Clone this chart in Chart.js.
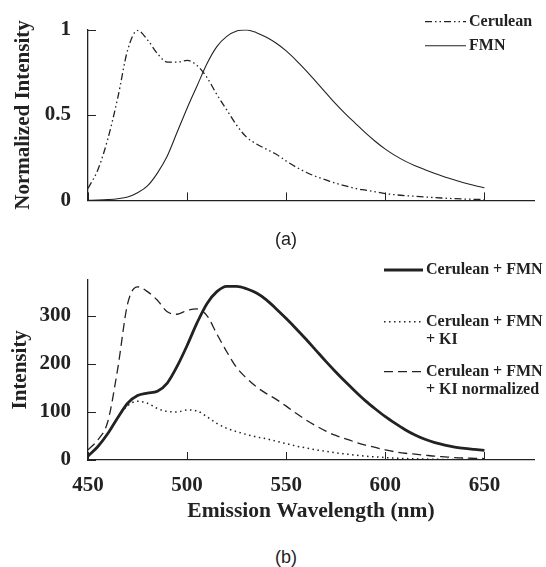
<!DOCTYPE html>
<html>
<head>
<meta charset="utf-8">
<script src="https://cdn.jsdelivr.net/npm/chart.js@4/dist/chart.umd.min.js"></script>
<style>
  body { margin: 0; background: #fff; width: 546px; height: 567px; position: relative; overflow: hidden; }
  canvas { position: absolute; left: 0; }
  .cap { position: absolute; width: 40px; text-align: center; font: 18px "Liberation Sans", Arial, sans-serif; color: #222; }
</style>
</head>
<body>
<canvas id="chartA" width="546" height="230" style="top:0"></canvas>
<div class="cap" style="left:266px; top:229px">(a)</div>
<canvas id="chartB" width="546" height="280" style="top:250px"></canvas>
<div class="cap" style="left:266px; top:547px">(b)</div>
<script>
(function () {
  'use strict'

  // emission wavelength (nm), shared by all curves
  var wavelength = [450, 455, 460, 465, 470, 475, 480, 485, 490, 495, 500, 505, 510, 515, 520, 525, 530,
    535, 540, 545, 550, 555, 560, 565, 570, 575, 580, 585, 590, 595, 600, 605, 610, 615, 620, 625,
    630, 635, 640, 645, 650]

  // panel (a): normalized spectra
  var cerulean = [0.07, 0.18, 0.36, 0.60, 0.88, 0.995, 0.94, 0.86, 0.81, 0.81, 0.82, 0.79, 0.72, 0.62, 0.53,
    0.44, 0.37, 0.33, 0.30, 0.27, 0.23, 0.195, 0.165, 0.14, 0.12, 0.10, 0.085, 0.07, 0.06, 0.05,
    0.04, 0.033, 0.028, 0.024, 0.02, 0.016, 0.013, 0.01, 0.008, 0.006, 0.005]
  var fmn = [0.0, 0.002, 0.005, 0.01, 0.02, 0.045, 0.085, 0.16, 0.26, 0.40, 0.54, 0.67, 0.80, 0.90, 0.96,
    0.992, 0.998, 0.982, 0.955, 0.92, 0.875, 0.82, 0.76, 0.695, 0.63, 0.565, 0.505, 0.45, 0.395, 0.345,
    0.30, 0.262, 0.23, 0.203, 0.18, 0.158, 0.137, 0.119, 0.102, 0.087, 0.074]

  // panel (b): intensities
  var ceruleanFmn = [8, 28, 55, 88, 118, 134, 139, 143, 160, 195, 238, 285, 325, 350, 361, 361, 356,
    347, 333, 314, 294, 273, 251, 228, 205, 183, 162, 142, 123, 106, 90, 76, 63, 52, 43, 36,
    31, 27, 24, 22, 20]
  var ceruleanFmnKI = [8, 28, 55, 88, 113, 122, 118, 107, 101, 100, 104, 102, 90, 76, 66, 59, 53,
    48, 44, 39, 34, 29, 25, 21, 18, 15, 12.5, 10, 8, 6.5, 5, 4, 3, 2.5, 2, 1.5, 1.2, 1, 1, 1, 1]
  var ceruleanFmnKINorm = [21, 42, 80, 190, 325, 360, 350, 332, 308, 303, 311, 314, 300, 262, 225, 192, 170,
    152, 138, 126, 112, 97, 83, 71, 60, 51, 44, 37, 31, 26, 21, 17, 14, 12, 10, 8, 6.5, 5, 4, 3.5, 3]

  var xTicks = [450, 500, 550, 600, 650]
  var yTicksA = [0, 0.5, 1]
  var yTicksB = [0, 100, 200, 300]
  var legendA = [['Cerulean'], ['FMN']]
  var legendB = [['Cerulean + FMN'], ['Cerulean + FMN', '+ KI'], ['Cerulean + FMN', '+ KI normalized']]

  var ink = '#222'
  Chart.defaults.font.family = '"Liberation Serif", "Times New Roman", serif'
  Chart.defaults.font.weight = 'bold'
  Chart.defaults.color = ink

  function pts(ys) {
    return wavelength.map(function (w, i) { return { x: w, y: ys[i] } })
  }

  // inward tick marks on both axes
  var tickMarks = {
    id: 'tickMarks',
    afterDraw: function (chart) {
      var ctx = chart.ctx, a = chart.chartArea, x = chart.scales.x, y = chart.scales.y
      ctx.save()
      ctx.strokeStyle = ink
      ctx.lineWidth = 1
      ctx.beginPath()
      x.ticks.forEach(function (t) {
        var px = Math.round(x.getPixelForValue(t.value)) + 0.5
        ctx.moveTo(px, a.bottom); ctx.lineTo(px, a.bottom - 8)
      })
      y.ticks.forEach(function (t) {
        var py = Math.round(y.getPixelForValue(t.value)) + 0.5
        ctx.moveTo(a.left, py); ctx.lineTo(a.left + 8, py)
      })
      ctx.stroke()
      ctx.restore()
    }
  }

  // legend drawn beside the curves, top right
  var sideLegend = {
    id: 'sideLegend',
    afterDraw: function (chart, args, opts) {
      var ctx = chart.ctx
      ctx.save()
      chart.data.datasets.forEach(function (ds, i) {
        var y = opts.rows[i]
        ctx.strokeStyle = ds.borderColor
        ctx.lineWidth = ds.borderWidth
        ctx.setLineDash(ds.borderDash || [])
        ctx.beginPath()
        ctx.moveTo(opts.x0, y); ctx.lineTo(opts.x1, y)
        ctx.stroke()
        ctx.setLineDash([])
        ctx.font = 'bold 16px "Liberation Serif", serif'
        ctx.fillStyle = ink
        ctx.textBaseline = 'middle'
        opts.labels[i].forEach(function (line, k) {
          ctx.fillText(line, opts.x1 + 3, y + k * 18.5)
        })
      })
      ctx.restore()
    }
  }

  function axes(yMax, yTicks, yTitle, showX) {
    return {
      x: {
        type: 'linear', min: 450, max: 675,
        afterBuildTicks: function (s) { s.ticks = xTicks.map(function (v) { return { value: v } }) },
        afterFit: function (s) { s.height = showX ? 70 : 22 },
        grid: { display: true, drawOnChartArea: false, drawTicks: false },
        border: { display: true, color: ink, width: 1.3 },
        ticks: { display: showX, padding: 13, font: { size: 21 }, maxRotation: 0,
          callback: function (v) { return String(v) } },
        title: { display: showX, text: 'Emission Wavelength (nm)', font: { size: 21.5 }, padding: { top: 0, bottom: 6 } }
      },
      y: {
        min: 0, max: yMax,
        afterBuildTicks: function (s) { s.ticks = yTicks.map(function (v) { return { value: v } }) },
        afterFit: function (s) { s.width = 88 },
        grid: { display: true, drawOnChartArea: false, drawTicks: false },
        border: { display: true, color: ink, width: 1.3 },
        ticks: { padding: 17, font: { size: 21 }, callback: function (v) { return String(v) } },
        title: { display: true, text: yTitle, font: { size: 21 }, padding: { top: showX ? 8 : 11, bottom: 0 } }
      }
    }
  }

  new Chart(document.getElementById('chartA'), {
    type: 'line',
    data: {
      datasets: [{
        label: 'Cerulean',
        data: pts(cerulean),
        borderColor: ink, borderWidth: 1.3, borderDash: [7, 3, 1.5, 3, 1.5, 3],
        pointRadius: 0, cubicInterpolationMode: 'monotone'
      }, {
        label: 'FMN',
        data: pts(fmn),
        borderColor: ink, borderWidth: 1.1,
        pointRadius: 0, cubicInterpolationMode: 'monotone'
      }]
    },
    options: {
      responsive: false, animation: false, devicePixelRatio: 1,
      layout: { padding: { top: 18, right: 12, bottom: 0, left: 0 } },
      scales: axes(1, yTicksA, 'Normalized Intensity', false),
      plugins: {
        legend: { display: false }, tooltip: { enabled: false },
        sideLegend: { x0: 425, x1: 466, rows: [21.7, 45.7], labels: legendA }
      }
    },
    plugins: [tickMarks, sideLegend]
  })

  new Chart(document.getElementById('chartB'), {
    type: 'line',
    data: {
      datasets: [{
        label: 'Cerulean + FMN',
        data: pts(ceruleanFmn),
        borderColor: ink, borderWidth: 2.8,
        pointRadius: 0, cubicInterpolationMode: 'monotone'
      }, {
        label: 'Cerulean + FMN + KI',
        data: pts(ceruleanFmnKI),
        borderColor: ink, borderWidth: 1.5, borderDash: [1.5, 3.5],
        pointRadius: 0, cubicInterpolationMode: 'monotone'
      }, {
        label: 'Cerulean + FMN + KI normalized',
        data: pts(ceruleanFmnKINorm),
        borderColor: ink, borderWidth: 1.3, borderDash: [9, 5],
        pointRadius: 0, cubicInterpolationMode: 'monotone'
      }]
    },
    options: {
      responsive: false, animation: false, devicePixelRatio: 1,
      layout: { padding: { top: 23, right: 12, bottom: 0, left: 0 } },
      scales: axes(375, yTicksB, 'Intensity', true),
      plugins: {
        legend: { display: false }, tooltip: { enabled: false },
        sideLegend: { x0: 384, x1: 423, rows: [20, 71.7, 121.7], labels: legendB }
      }
    },
    plugins: [tickMarks, sideLegend]
  })
})()
</script>
</body>
</html>
